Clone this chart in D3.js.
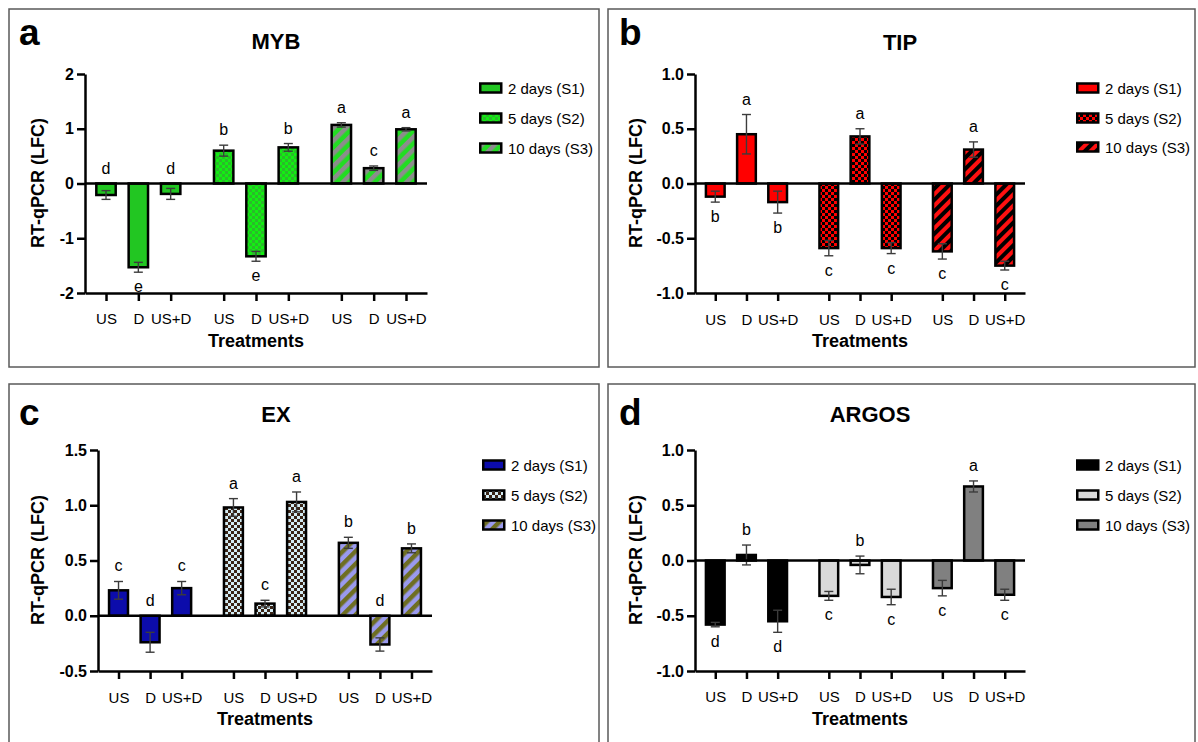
<!DOCTYPE html>
<html><head><meta charset="utf-8">
<script src="https://cdn.jsdelivr.net/npm/d3@7"></script>
<style>
body{margin:0;background:#fff}
svg{display:block}
text{font-family:"Liberation Sans",Arial,Helvetica,sans-serif}
</style>
</head><body>
<svg id="chart" width="1198" height="742"></svg>
<script>
// ---------- data ----------
const treatments = ["US", "D", "US+D"];
const stages = ["2 days (S1)", "5 days (S2)", "10 days (S3)"];
const xAxisTitle = "Treatments";
const yAxisTitle = "RT-qPCR (LFC)";

// MYB (rows = stage S1,S2,S3 ; columns = US, D, US+D)
const mybValues  = [[-0.21, -1.53, -0.19], [0.60, -1.33, 0.66], [1.07, 0.28, 0.99]];
const mybErrors  = [[0.08, 0.09, 0.10], [0.10, 0.09, 0.07], [0.04, 0.04, 0.03]];
const mybLetters = [["d", "e", "d"], ["b", "e", "b"], ["a", "c", "a"]];
const mybSides   = [["up", "down", "up"], ["up", "down", "up"], ["up", "up", "up"]];
const mybTicks   = [-2, -1, 0, 1, 2];

// TIP
const tipValues  = [[-0.12, 0.45, -0.17], [-0.59, 0.43, -0.59], [-0.62, 0.31, -0.75]];
const tipErrors  = [[0.05, 0.18, 0.10], [0.07, 0.07, 0.05], [0.07, 0.07, 0.04]];
const tipLetters = [["b", "a", "b"], ["c", "a", "c"], ["c", "a", "c"]];
const tipSides   = [["down", "up", "down"], ["down", "up", "down"], ["down", "up", "down"]];
const tipTicks   = [-1, -0.5, 0, 0.5, 1];

// EX
const exValues  = [[0.23, -0.24, 0.25], [0.98, 0.11, 1.03], [0.66, -0.26, 0.61]];
const exErrors  = [[0.08, 0.09, 0.06], [0.08, 0.03, 0.09], [0.05, 0.06, 0.04]];
const exLetters = [["c", "d", "c"], ["a", "c", "a"], ["b", "d", "b"]];
const exSides   = [["up", "up", "up"], ["up", "up", "up"], ["up", "up", "up"]];
const exTicks   = [-0.5, 0, 0.5, 1, 1.5];

// ARGOS
const argosValues  = [[-0.58, 0.05, -0.55], [-0.32, -0.04, -0.33], [-0.25, 0.67, -0.31]];
const argosErrors  = [[0.02, 0.09, 0.10], [0.04, 0.08, 0.07], [0.07, 0.05, 0.05]];
const argosLetters = [["d", "b", "d"], ["c", "b", "c"], ["c", "a", "c"]];
const argosSides   = [["down", "up", "down"], ["down", "up", "down"], ["down", "up", "down"]];
const argosTicks   = [-1, -0.5, 0, 0.5, 1];

// ---------- layout / style ----------
const panels = [
  {id:"a", letter:"a", title:"MYB", values:mybValues, errors:mybErrors, letters:mybLetters, sides:mybSides, ticks:mybTicks, dec:0,
   domain:[-2,2], box:[9,9,590,358], x0:85, x1:427, yTop:74, yBot:293,
   titleX:276, titleY:49, letterX:19, letterY:45, ylabX:38, ylabY:183, catY:324, treatY:347, legX:479, legY:[88,118,148],
   fills:[{type:"solid", c:"#22c622"}, {type:"checker", c1:"#12ee12", c2:"#2aba2a", s:3}, {type:"stripe", c1:"#22dd22", c2:"#8c8c8c", w:9}]},
  {id:"b", letter:"b", title:"TIP", values:tipValues, errors:tipErrors, letters:tipLetters, sides:tipSides, ticks:tipTicks, dec:1,
   domain:[-1,1], box:[608,9,587,358], x0:695, x1:1025, yTop:74, yBot:293,
   titleX:900, titleY:50, letterX:619, letterY:45, ylabX:636, ylabY:183, catY:325, treatY:347, legX:1076, legY:[88,118,147],
   fills:[{type:"solid", c:"#ff0000"}, {type:"checker", c1:"#ff0000", c2:"#000000", s:3}, {type:"stripe", c1:"#ff1010", c2:"#000000", w:8}]},
  {id:"c", letter:"c", title:"EX", values:exValues, errors:exErrors, letters:exLetters, sides:exSides, ticks:exTicks, dec:1,
   domain:[-0.5,1.5], box:[9,384,590,420], x0:98, x1:432, yTop:450, yBot:671,
   titleX:276, titleY:422, letterX:19, letterY:425, ylabX:38, ylabY:560, catY:703, treatY:725, legX:482, legY:[465,495,525],
   fills:[{type:"solid", c:"#0c0cab"}, {type:"checker", c1:"#d4ecf4", c2:"#3a2416", s:3}, {type:"stripe", c1:"#9a9aee", c2:"#6e6e22", w:9}]},
  {id:"d", letter:"d", title:"ARGOS", values:argosValues, errors:argosErrors, letters:argosLetters, sides:argosSides, ticks:argosTicks, dec:1,
   domain:[-1,1], box:[608,384,587,420], x0:695, x1:1025, yTop:450, yBot:671,
   titleX:870, titleY:422, letterX:619, letterY:425, ylabX:636, ylabY:560, catY:702, treatY:725, legX:1076, legY:[465,495,525],
   fills:[{type:"solid", c:"#000000"}, {type:"solid", c:"#d9d9d9"}, {type:"solid", c:"#808080"}]}
];

const svg = d3.select("#chart");
svg.append("rect").attr("width",1198).attr("height",742).attr("fill","#fff");
const defs = svg.append("defs");
const FONT = '"Liberation Sans",Arial,Helvetica,sans-serif';

function makeFill(f, id) {
  if (f.type === "solid") return f.c;
  if (f.type === "checker") {
    const p = defs.append("pattern").attr("id", id).attr("patternUnits","userSpaceOnUse")
      .attr("width", 2*f.s).attr("height", 2*f.s);
    p.append("rect").attr("width",2*f.s).attr("height",2*f.s).attr("fill",f.c1);
    p.append("rect").attr("x",0).attr("y",0).attr("width",f.s).attr("height",f.s).attr("fill",f.c2);
    p.append("rect").attr("x",f.s).attr("y",f.s).attr("width",f.s).attr("height",f.s).attr("fill",f.c2);
    return `url(#${id})`;
  }
  const p = defs.append("pattern").attr("id", id).attr("patternUnits","userSpaceOnUse")
    .attr("width", f.w).attr("height", f.w).attr("patternTransform","rotate(45)");
  p.append("rect").attr("width",f.w).attr("height",f.w).attr("fill",f.c1);
  p.append("rect").attr("width",f.w/2).attr("height",f.w).attr("fill",f.c2);
  return `url(#${id})`;
}

function drawPanel(p) {
  const g = svg.append("g");
  g.append("rect").attr("x",p.box[0]).attr("y",p.box[1]).attr("width",p.box[2]).attr("height",p.box[3])
    .attr("fill","none").attr("stroke","#5a5a5a").attr("stroke-width",1.5);

  const fills = p.fills.map((f,i) => makeFill(f, `pat-${p.id}-${i}`));

  const END = 0.15, GAP = 0.64;
  const total = 2*END + 9 + 2*GAP;
  const x = d3.scaleLinear().domain([0,total]).range([p.x0,p.x1]);
  const pos = (s,t) => END + s*(3+GAP) + t + 0.5;
  const y = d3.scaleLinear().domain(p.domain).range([p.yBot,p.yTop]);
  const bw = x(0.6) - x(0);

  const rows = [];
  p.values.forEach((arr,s) => arr.forEach((v,t) => rows.push({s, t, v, e:p.errors[s][t], l:p.letters[s][t], side:p.sides[s][t]})));

  // bars
  g.selectAll("rect.bar").data(rows).join("rect").attr("class","bar")
    .attr("x", d => x(pos(d.s,d.t)) - bw/2)
    .attr("y", d => y(Math.max(0,d.v)))
    .attr("width", bw)
    .attr("height", d => Math.abs(y(d.v) - y(0)))
    .attr("fill", d => fills[d.s])
    .attr("stroke","#000").attr("stroke-width",2.5);

  // error bars
  const eg = g.append("g").attr("stroke","#3c3c3c").attr("stroke-width",1.4).attr("fill","none");
  const cap = 4.5;
  rows.forEach(d => {
    const cx = x(pos(d.s,d.t));
    eg.append("line").attr("x1",cx).attr("x2",cx).attr("y1",y(d.v - d.e)).attr("y2",y(d.v + d.e));
    eg.append("line").attr("x1",cx-cap).attr("x2",cx+cap).attr("y1",y(d.v + d.e)).attr("y2",y(d.v + d.e));
    eg.append("line").attr("x1",cx-cap).attr("x2",cx+cap).attr("y1",y(d.v - d.e)).attr("y2",y(d.v - d.e));
  });

  // zero line
  g.append("line").attr("x1",p.x0).attr("x2",p.x1).attr("y1",y(0)).attr("y2",y(0))
    .attr("stroke","#000").attr("stroke-width",2.5);

  // y axis
  const ya = g.append("g").attr("transform",`translate(${p.x0},0)`)
    .call(d3.axisLeft(y).tickValues(p.ticks).tickFormat(d => d.toFixed(p.dec)).tickSize(8).tickSizeOuter(0).tickPadding(3));
  ya.attr("font-family",FONT).attr("font-size",16).attr("font-weight","bold");
  ya.select(".domain").attr("stroke","#000").attr("stroke-width",2.5);
  ya.selectAll(".tick line").attr("stroke","#000").attr("stroke-width",2.5);
  ya.selectAll(".tick text").attr("fill","#000");

  // x axis
  const tickVals = [];
  for (let s=0;s<3;s++) for (let t=0;t<3;t++) tickVals.push(pos(s,t));
  const xa = g.append("g").attr("transform",`translate(0,${p.yBot})`)
    .call(d3.axisBottom(x).tickValues(tickVals).tickFormat((d,i) => treatments[i % 3]).tickSize(8).tickSizeOuter(0));
  xa.attr("font-family",FONT).attr("font-size",15);
  xa.select(".domain").attr("stroke","#000").attr("stroke-width",2.5);
  xa.selectAll(".tick line").attr("stroke","#000").attr("stroke-width",2.5);
  xa.selectAll(".tick text").attr("fill","#000").attr("y", p.catY - p.yBot).attr("dy", 0);

  // significance letters
  g.selectAll("text.sig").data(rows).join("text").attr("class","sig")
    .attr("x", d => x(pos(d.s,d.t)))
    .attr("y", d => d.side === "up" ? y(Math.max(0, d.v + d.e)) - 10 : y(Math.min(0, d.v - d.e)) + 20)
    .attr("text-anchor","middle").attr("font-size",16).attr("fill","#000")
    .text(d => d.l);

  // titles
  g.append("text").attr("x",p.titleX).attr("y",p.titleY).attr("text-anchor","middle")
    .attr("font-size",22).attr("font-weight","bold").text(p.title);
  g.append("text").attr("x",p.letterX).attr("y",p.letterY)
    .attr("font-size",37).attr("font-weight","bold").text(p.letter);
  g.append("text").attr("x",(p.x0+p.x1)/2).attr("y",p.treatY).attr("text-anchor","middle")
    .attr("font-size",18).attr("font-weight","bold").text(xAxisTitle);
  g.append("text").attr("transform",`translate(${p.ylabX},${p.ylabY}) rotate(-90)`)
    .attr("text-anchor","middle").attr("dominant-baseline","central")
    .attr("font-size",18).attr("font-weight","bold").text(yAxisTitle);

  // legend
  const lg = g.append("g");
  stages.forEach((st,i) => {
    lg.append("rect").attr("x",p.legX+1.25).attr("y",p.legY[i]-4.5).attr("width",21).attr("height",9)
      .attr("fill",fills[i]).attr("stroke","#000").attr("stroke-width",2.5);
    lg.append("text").attr("x",p.legX+29).attr("y",p.legY[i]+5.5).attr("font-size",15).text(st);
  });
}

panels.forEach(drawPanel);
</script>
</body></html>
